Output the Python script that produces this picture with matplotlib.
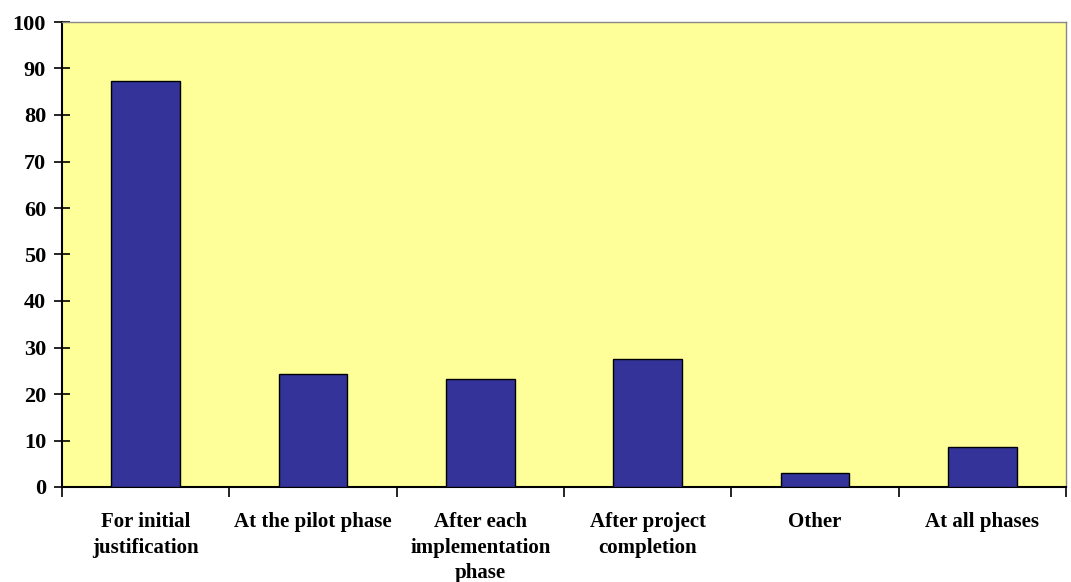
import matplotlib.pyplot as plt
import numpy as np

categories = ["For initial\njustification", "At the pilot phase",
              "After each\nimplementation\nphase", "After project\ncompletion",
              "Other", "At all phases"]
values = [87.4, 24.2, 23.3, 27.5, 3.0, 8.7]
yticks = list(range(0, 101, 10))

plt.rcParams['font.family'] = ['Liberation Serif', 'DejaVu Serif']
plt.rcParams['font.weight'] = 'bold'

fig = plt.figure(figsize=(10.71, 5.82), dpi=100)
ax = fig.add_axes([62 / 1071, 95 / 582, 1004 / 1071, 465 / 582])
ax.set_facecolor('#FFFF99')

x = np.arange(len(categories))
ax.bar(x, values, width=0.41, color='#333399', edgecolor='black', linewidth=1, zorder=3)

ax.set_xlim(-0.5, len(categories) - 0.5)
ax.set_ylim(0, 100)
ax.set_yticks(yticks)
ax.set_yticklabels([str(t) for t in yticks], fontsize=16, fontweight='bold')

ax.set_xticks(x)
ax.set_xticklabels(categories, fontsize=15, fontweight='bold', linespacing=1.38)
ax.set_xticks(np.arange(-0.5, len(categories)), minor=True)
ax.tick_params(axis='x', which='major', length=0, pad=18)
ax.tick_params(axis='x', which='minor', length=7, width=1.2, direction='out', color='black')
ax.tick_params(axis='y', direction='inout', length=11, width=1.2, pad=6)

for side in ['top', 'right']:
    ax.spines[side].set_color('#888888')
    ax.spines[side].set_linewidth(1)
for side in ['left', 'bottom']:
    ax.spines[side].set_color('black')
    ax.spines[side].set_linewidth(1.5)

fig.savefig('out.png', dpi=100)
